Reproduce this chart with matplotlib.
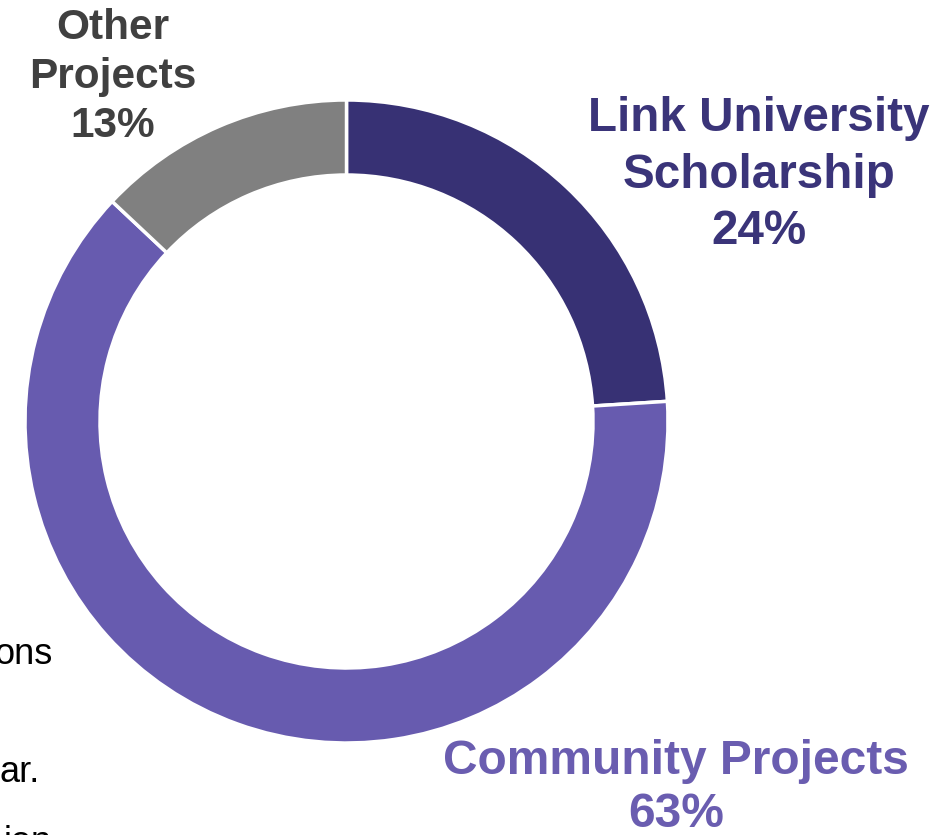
import matplotlib
matplotlib.use("Agg")
import matplotlib.pyplot as plt

# share of funds by category (clockwise from 12 o'clock)
categories = ["Link University\nScholarship", "Community Projects", "Other\nProjects"]
shares = [24, 63, 13]
colors = ["#373174", "#675BAF", "#808080"]
label_colors = ["#3A3479", "#6A5DB0", "#404040"]

W, H = 953, 835
plt.rcParams["font.family"] = ["Liberation Sans", "DejaVu Sans"]

fig = plt.figure(figsize=(W / 100, H / 100), dpi=100)
ax = fig.add_axes([0, 0, 1, 1])

cx, cy, r = 346.5, H - 421.5, 321.5
ax.pie(shares, colors=colors, startangle=90, counterclock=False,
       center=(cx, cy), radius=r, frame=True,
       wedgeprops=dict(width=75, edgecolor="white", linewidth=2.5))
ax.set_xlim(0, W)
ax.set_ylim(0, H)
ax.axis("off")

# labels (pixel positions from top-left)
label_pos = [(759, 175, 34.3, 1.32), (676, 788, 34.5, 1.25), (113, 77, 30.5, 1.28)]
for cat, s, c, (x, y, fs, ls) in zip(categories, shares, label_colors, label_pos):
    ax.text(x, H - y, f"{cat}\n{s}%", ha="center", va="center", color=c,
            fontsize=fs, fontweight="bold", linespacing=ls)

# fragments of the slide body text cut off at the left edge
for txt, x, y in [("ons", 53, 655), ("ar.", 40, 772), ("ion", 52, 842)]:
    ax.text(x, H - y, txt, ha="right", va="center", color="black", fontsize=26)

fig.savefig("out.png", dpi=100)
